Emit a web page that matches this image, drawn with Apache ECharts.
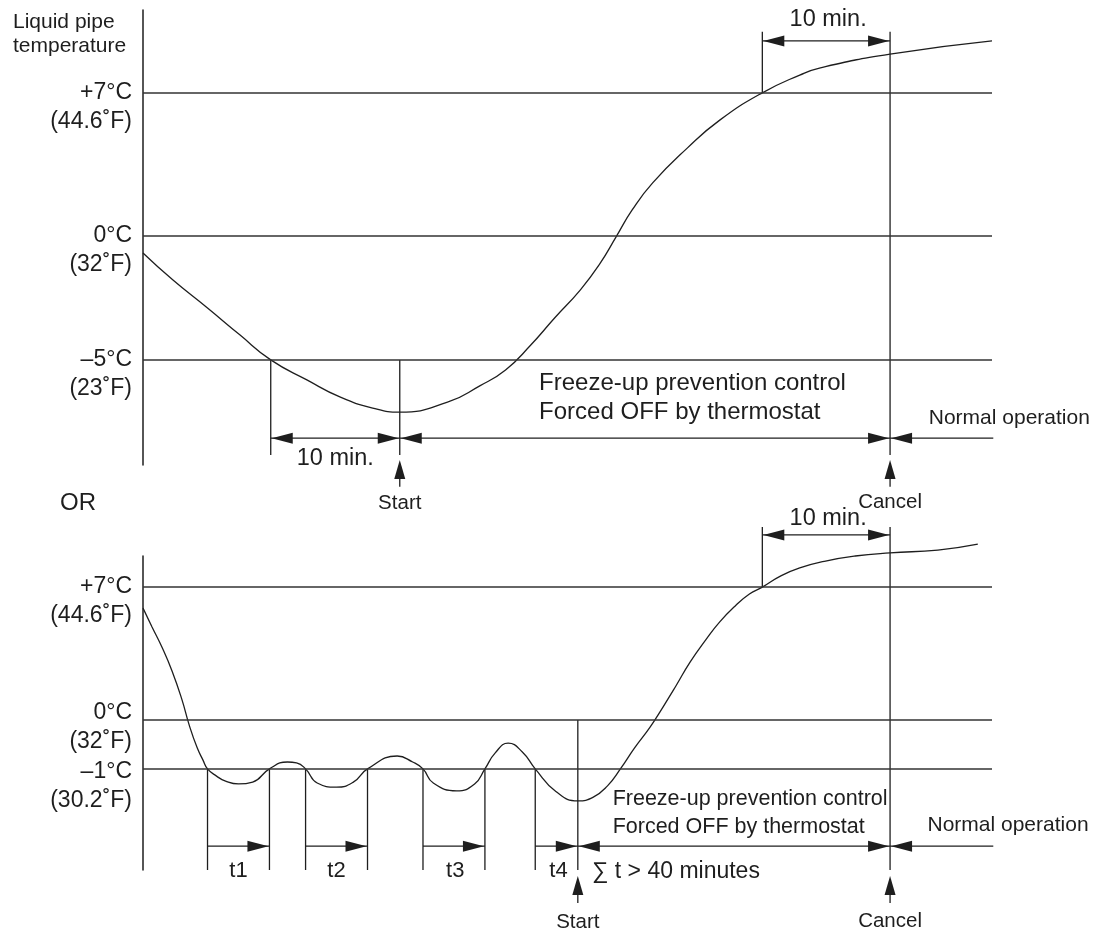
<!DOCTYPE html>
<html>
<head>
<meta charset="utf-8">
<title>Freeze-up prevention control</title>
<script src="https://cdn.jsdelivr.net/npm/echarts@6.0.0/dist/echarts.min.js"></script>
<style>
  html, body { margin: 0; padding: 0; background: #fff; }
  #main { width: 1103px; height: 930px; }
</style>
</head>
<body>
<div id="main"></div>
<script>
// x = time in minutes, y = schematic height of each panel (0..100)
var topLevels = [81.8, 50.3, 23.1];
var topLevelLabels = [['+7°C', '(44.6˚F)'], ['0°C', '(32˚F)'], ['–5°C', '(23˚F)']];
var topCurve = [
  [0.0, 46.6], [2.3, 40.7], [5.0, 34.5], [7.5, 28.6], [9.9, 23.1], [12.7, 18.7],
  [15.3, 14.9], [17.8, 12.5], [19.9, 11.6], [23.6, 13.8], [26.1, 17.4], [28.1, 20.9],
  [30.0, 26.2], [31.9, 32.3], [33.9, 38.5], [35.4, 44.2], [36.7, 50.3], [37.9, 56.0],
  [39.5, 62.0], [42.2, 69.7], [44.7, 75.8], [48.0, 81.8], [50.9, 85.7], [52.5, 87.3],
  [57.9, 90.3], [65.8, 93.2]
];
// vertical marker lines: [x, yFrom, yTo]
var topMarkers = [[9.9, 2.2, 23.1], [19.9, 2.2, 23.1], [48.0, 81.8, 95.2], [57.9, 2.2, 95.2]];
// dimension arrows: [xFrom, xTo, y, head at start, head at end]
var topSpans = [[9.9, 19.9, 5.9, 1, 1], [19.9, 57.9, 5.9, 1, 1], [57.9, 65.9, 5.9, 1, 0], [48.0, 57.9, 93.2, 1, 1]];
// upward pointers: [x, tip, base]
var topPointers = [[19.9, 1.1, -4.8], [57.9, 1.1, -4.8]];
var topTexts = [
  ['10 min.', 14.9, 1.5, 'center'],
  ['Freeze-up prevention control', 30.7, 18.0, 'left'],
  ['Forced OFF by thermostat', 30.7, 11.6, 'left'],
  ['Normal operation', 60.9, 10.3, 'left'],
  ['Start', 19.9, -8.4, 'center'],
  ['Cancel', 57.9, -8.1, 'center'],
  ['10 min.', 53.1, 97.8, 'center']
];

var bottomLevels = [90.1, 47.8, 32.2];
var bottomLevelLabels = [['+7°C', '(44.6˚F)'], ['0°C', '(32˚F)'], ['–1°C', '(30.2˚F)']];
var bottomCurve = [
  [0.0, 83.4], [0.7, 77.4], [1.5, 70.7], [2.25, 63.4], [3.0, 54.5], [3.6, 45.9],
  [4.2, 38.9], [4.65, 35.0], [5.0, 32.2], [5.7, 29.9], [6.4, 28.3], [7.4, 27.4],
  [8.5, 28.0], [9.8, 32.2], [11.2, 34.4], [11.9, 34.1], [12.6, 32.2], [13.5, 27.7],
  [15.0, 26.4], [16.3, 28.0], [17.4, 32.2], [19.7, 36.3], [20.9, 34.4], [21.7, 32.2],
  [22.5, 27.7], [24.3, 25.2], [25.7, 27.4], [26.5, 32.2], [27.3, 37.3], [28.3, 40.4],
  [29.4, 37.6], [30.4, 32.2], [32.0, 25.0], [33.7, 22.0], [34.9, 23.2], [36.0, 26.8],
  [37.0, 32.2], [38.1, 38.9], [39.3, 45.5], [40.3, 51.9], [41.3, 58.6], [42.4, 66.2],
  [43.6, 73.2], [44.7, 79.0], [45.9, 84.1], [47.0, 87.9], [48.0, 90.1], [49.4, 93.6],
  [50.9, 96.2], [52.9, 98.4], [55.2, 100.0], [57.9, 101.0], [61.6, 101.9], [64.7, 103.8]
];
var bottomMarkers = [
  [5.0, 0, 32.2], [9.8, 0, 32.2], [12.6, 0, 32.2], [17.4, 0, 32.2], [21.7, 0, 32.2],
  [26.5, 0, 32.2], [30.4, 0, 32.2], [33.7, 0, 47.8], [48.0, 90.1, 109.2], [57.9, 0, 109.2]
];
var bottomSpans = [
  [5.0, 9.8, 7.6, 0, 1], [12.6, 17.4, 7.6, 0, 1], [21.7, 26.5, 7.6, 0, 1], [30.4, 33.7, 7.6, 0, 1],
  [33.7, 57.9, 7.6, 1, 1], [57.9, 65.9, 7.6, 1, 0], [48.0, 57.9, 106.7, 1, 1]
];
var bottomPointers = [[33.7, -1.9, -10.5], [57.9, -1.9, -10.5]];
var bottomTexts = [
  ['10 min.', 53.1, 111.8, 'center'],
  ['t1', 7.4, -0.3, 'center'],
  ['t2', 15.0, -0.3, 'center'],
  ['t3', 24.2, -0.3, 'center'],
  ['t4', 32.2, -0.3, 'center'],
  ['\u2211 t > 40 minutes', 34.8, -0.6, 'left'],
  ['Freeze-up prevention control ', 36.4, 22.6, 'left'],
  ['Forced OFF by thermostat ', 36.4, 13.7, 'left'],
  ['Normal operation', 60.8, 14.3, 'left'],
  ['Start', 33.7, -16.6, 'center'],
  ['Cancel', 57.9, -16.4, 'center']
];

var ink = '#1e1e1e';
var fontFamily = '"Liberation Sans", Arial, Helvetica, sans-serif';
var textSize = {
  'Start': 20.5, 'Cancel': 20.5, 'Normal operation': 21, '10 min.': 23.5, 't1': 22, 't2': 22, 't3': 22, 't4': 22,
  'Freeze-up prevention control': 24, 'Forced OFF by thermostat': 24,
  'Freeze-up prevention control ': 21.5, 'Forced OFF by thermostat ': 21.5
};
// pixel nudges of the level captions (the bottom 0 °C / –1 °C pair is spread apart)
var labelShift = [[0, 0, 0], [0, -7, 3]];

function arrowHead(x, y, dir) {
  // dir: -1 tip points left, 1 right, 'up' tip points up
  var pts;
  if (dir === 'up') pts = [[x, y], [x - 5.5, y + 19], [x + 5.5, y + 19]];
  else pts = [[x, y], [x - dir * 21, y - 5.5], [x - dir * 21, y + 5.5]];
  return { type: 'polygon', shape: { points: pts }, style: { fill: ink } };
}

function customSeries(idx, items, draw) {
  return {
    type: 'custom', xAxisIndex: idx, yAxisIndex: idx, silent: true, clip: false,
    data: items.map(function (d) { return [d[0], d[1]]; }),
    renderItem: function (params, api) { return draw(items[params.dataIndex], api, params.dataIndex); }
  };
}

function drawMarker(d, api) {
  var a = api.coord([d[0], d[1]]), b = api.coord([d[0], d[2]]);
  return { type: 'line', shape: { x1: a[0], y1: a[1], x2: b[0], y2: b[1] },
    style: { stroke: ink, lineWidth: 1.3 } };
}

function drawSpan(d, api) {
  var a = api.coord([d[0], d[2]]), b = api.coord([d[1], d[2]]);
  var kids = [{ type: 'line', shape: { x1: a[0], y1: a[1], x2: b[0], y2: b[1] },
    style: { stroke: ink, lineWidth: 1.3 } }];
  if (d[3]) kids.push(arrowHead(a[0] + 1, a[1], -1));
  if (d[4]) kids.push(arrowHead(b[0] - 1, b[1], 1));
  return { type: 'group', children: kids };
}

function drawPointer(d, api) {
  var t = api.coord([d[0], d[1]]), b = api.coord([d[0], d[2]]);
  return { type: 'group', children: [
    { type: 'line', shape: { x1: b[0], y1: b[1], x2: t[0], y2: t[1] + 5 }, style: { stroke: ink, lineWidth: 1.3 } },
    arrowHead(t[0], t[1], 'up')
  ] };
}

function drawText(d, api) {
  var p = api.coord([d[1], d[2]]);
  return { type: 'text', x: p[0], y: p[1], style: {
    text: d[0].trim(), align: d[3], verticalAlign: 'middle', fill: ink,
    font: (textSize[d[0]] || 23) + 'px ' + fontFamily } };
}

// captions of the temperature levels, drawn left of the axis line
function levelCaptions(idx, levels, labels) {
  return customSeries(idx, levels.map(function (v) { return [0, v]; }), function (d, api, i) {
    var p = api.coord([0, d[1]]);
    var y = p[1] + labelShift[idx][i];
    var font = '23px ' + fontFamily;
    return { type: 'group', children: [
      { type: 'text', x: p[0] - 11, y: y, style: { text: labels[i][0], align: 'right', verticalAlign: 'middle', fill: ink, font: font } },
      { type: 'text', x: p[0] - 11, y: y + 29, style: { text: labels[i][1], align: 'right', verticalAlign: 'middle', fill: ink, font: font } }
    ] };
  });
}

function levelAxis(idx) {
  return {
    type: 'value', gridIndex: idx, min: 0, max: 100,
    splitLine: { show: false }, axisTick: { show: false }, axisLabel: { show: false },
    axisLine: { show: true, lineStyle: { color: ink, width: 1.5 } }
  };
}

function timeAxis(idx) {
  return { type: 'value', gridIndex: idx, min: 0, max: 65.8, show: false };
}

function curveSeries(idx, data, levels) {
  return {
    type: 'line', xAxisIndex: idx, yAxisIndex: idx, data: data, smooth: 0.5,
    showSymbol: false, clip: false, silent: true,
    lineStyle: { color: ink, width: 1.3 },
    markLine: {
      silent: true, symbol: ['none', 'none'], label: { show: false },
      lineStyle: { color: '#333', width: 1.6, type: 'solid' },
      data: levels.map(function (v) { return { yAxis: v }; })
    }
  };
}

var chart = echarts.init(document.getElementById('main'));
chart.setOption({
  animation: false,
  backgroundColor: '#fff',
  title: {
    text: 'Liquid pipe\ntemperature', left: 13, top: 10, padding: 0,
    textStyle: { fontSize: 21, fontWeight: 'normal', lineHeight: 24, color: ink, fontFamily: fontFamily }
  },
  graphic: [{
    type: 'text', left: 60, top: 491,
    style: { text: 'OR', fill: ink, font: '24px ' + fontFamily }
  }],
  grid: [
    { left: 143, top: 10, width: 849, height: 455, outerBoundsMode: 'none' },
    { left: 143, top: 556, width: 849, height: 314, outerBoundsMode: 'none' }
  ],
  xAxis: [timeAxis(0), timeAxis(1)],
  yAxis: [levelAxis(0), levelAxis(1)],
  series: [
    levelCaptions(0, topLevels, topLevelLabels),
    customSeries(0, topMarkers, drawMarker),
    customSeries(0, topSpans, drawSpan),
    customSeries(0, topPointers, drawPointer),
    customSeries(0, topTexts, drawText),
    curveSeries(0, topCurve, topLevels),
    levelCaptions(1, bottomLevels, bottomLevelLabels),
    customSeries(1, bottomMarkers, drawMarker),
    customSeries(1, bottomSpans, drawSpan),
    customSeries(1, bottomPointers, drawPointer),
    customSeries(1, bottomTexts, drawText),
    curveSeries(1, bottomCurve, bottomLevels)
  ]
});
</script>
</body>
</html>
